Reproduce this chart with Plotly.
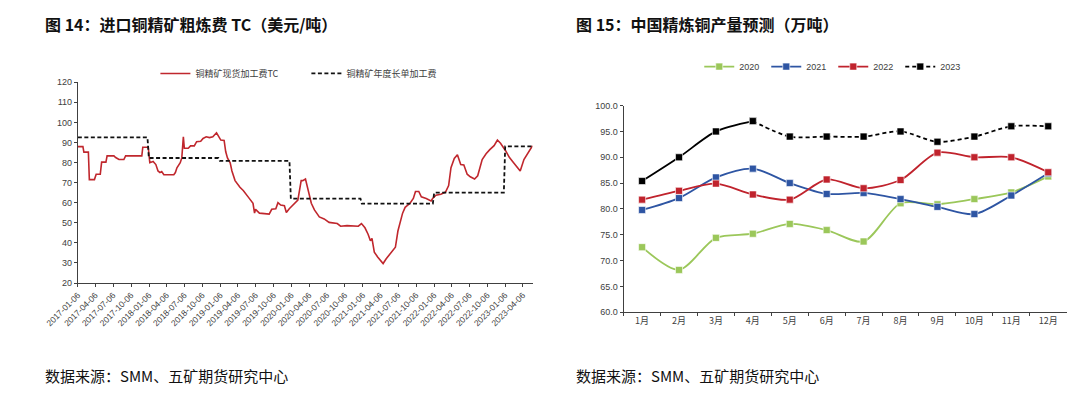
import pandas as pd
import plotly.graph_objects as go

# ---------------- Data: 图14 ----------------
tc_dates = [
    "2017-01-06", "2017-02-01", "2017-02-06", "2017-03-01", "2017-03-06", "2017-04-01",
    "2017-04-10", "2017-05-01", "2017-05-08", "2017-05-30", "2017-06-05", "2017-07-10",
    "2017-07-19", "2017-08-05", "2017-08-30", "2017-09-08", "2017-11-30", "2017-12-05",
    "2018-01-02", "2018-01-10", "2018-01-27", "2018-02-10", "2018-02-21", "2018-03-03",
    "2018-03-12", "2018-03-23", "2018-05-13", "2018-05-21", "2018-05-29", "2018-06-15",
    "2018-06-23", "2018-07-01", "2018-07-06", "2018-07-26", "2018-08-07", "2018-08-26",
    "2018-09-07", "2018-09-28", "2018-10-10", "2018-10-26", "2018-11-12", "2018-11-29",
    "2018-12-18", "2018-12-28", "2019-01-09", "2019-01-26", "2019-02-03", "2019-02-12",
    "2019-02-26", "2019-03-07", "2019-03-23", "2019-04-17", "2019-05-04", "2019-05-29",
    "2019-06-23", "2019-07-01", "2019-07-06", "2019-07-26", "2019-09-14", "2019-09-27",
    "2019-10-18", "2019-10-29", "2019-11-12", "2019-12-01", "2019-12-11", "2019-12-26",
    "2020-01-17", "2020-02-08", "2020-02-25", "2020-03-04", "2020-03-18", "2020-03-31",
    "2020-04-17", "2020-05-03", "2020-05-28", "2020-06-22", "2020-07-17", "2020-08-28",
    "2020-09-14", "2020-10-17", "2020-11-20", "2020-12-14", "2020-12-30", "2021-01-17",
    "2021-02-02", "2021-02-14", "2021-02-22", "2021-03-06", "2021-03-23", "2021-04-08",
    "2021-04-20", "2021-05-06", "2021-05-28", "2021-06-22", "2021-07-05", "2021-07-17",
    "2021-07-29", "2021-08-11", "2021-09-05", "2021-09-22", "2021-10-03", "2021-10-20",
    "2021-11-02", "2021-11-27", "2021-12-22", "2021-12-30", "2022-01-16", "2022-02-10",
    "2022-03-06", "2022-03-22", "2022-04-03", "2022-04-20", "2022-05-06", "2022-05-23",
    "2022-06-08", "2022-06-25", "2022-07-11", "2022-08-02", "2022-08-18", "2022-09-10",
    "2022-09-30", "2022-10-19", "2022-11-10", "2022-11-27", "2022-12-13", "2023-01-08",
    "2023-01-27", "2023-02-18", "2023-03-13", "2023-03-24", "2023-04-12", "2023-05-02",
    "2023-05-26",
]
tc_values = [
    87.9, 87.9, 85.2, 85.2, 71.5, 71.5,
    74.2, 74.2, 80.2, 80.2, 83.3, 83.3,
    82.5, 81.5, 81.5, 83.3, 83.3, 87.6,
    87.6, 79.9, 80.5, 79.0, 75.8, 75.0,
    75.5, 73.9, 73.9, 75.0, 77.4, 79.9,
    82.3, 92.8, 87.1, 87.1, 88.3, 88.3,
    90.4, 90.6, 92.0, 92.8, 92.4, 92.8,
    94.8, 92.8, 91.2, 91.0, 85.5, 82.3,
    79.9, 75.8, 71.0, 67.7, 66.1, 62.9,
    59.7, 54.8, 56.7, 54.8, 54.3, 56.7,
    57.0, 60.0, 58.8, 58.5, 55.1, 57.0,
    59.3, 61.3, 71.0, 71.0, 71.8, 66.1,
    59.7, 56.4, 52.9, 51.9, 50.2, 49.6,
    48.3, 48.6, 48.6, 48.3, 49.6, 47.5,
    44.3, 41.0, 42.2, 35.4, 33.0, 31.3,
    29.7, 32.1, 34.6, 37.8, 45.9, 50.0,
    54.8, 57.7, 59.7, 62.1, 65.6, 65.6,
    62.9, 62.1, 60.9, 62.1, 63.7, 64.2,
    65.3, 68.5, 77.4, 82.0, 83.9, 79.0,
    78.8, 74.2, 72.9, 71.8, 73.4, 81.5,
    84.4, 86.4, 88.4, 91.2, 89.6, 85.9,
    82.6, 79.9, 77.4, 75.8, 81.5, 84.4,
    88.4,
]
bench_years = [2017, 2018, 2019, 2020, 2021, 2022, 2023]
bench_values = [92.5, 82.25, 80.8, 62.0, 59.5, 65.0, 88.0]

left_tick_dates = [
    "2017-01-06", "2017-04-06", "2017-07-06", "2017-10-06",
    "2018-01-06", "2018-04-06", "2018-07-06", "2018-10-06",
    "2019-01-06", "2019-04-06", "2019-07-06", "2019-10-06",
    "2020-01-06", "2020-04-06", "2020-07-06", "2020-10-06",
    "2021-01-06", "2021-04-06", "2021-07-06", "2021-10-06",
    "2022-01-06", "2022-04-06", "2022-07-06", "2022-10-06",
    "2023-01-06", "2023-04-06",
]

# ---------------- Data: 图15 ----------------
months = ["1月", "2月", "3月", "4月", "5月", "6月", "7月", "8月", "9月", "10月", "11月", "12月"]
y2020 = [72.6, 68.2, 74.4, 75.2, 77.1, 75.9, 73.7, 81.1, 80.9, 81.9, 83.2, 86.3]
y2021 = [79.8, 82.1, 86.1, 87.8, 85.0, 82.9, 83.1, 81.9, 80.4, 79.0, 82.6, 86.9]
y2022 = [81.8, 83.5, 84.9, 82.8, 81.8, 85.7, 84.0, 85.6, 90.9, 90.0, 90.0, 87.1]
y2023 = [85.4, 90.0, 95.0, 97.0, 94.0, 94.0, 94.0, 95.0, 93.0, 94.0, 96.0, 96.0]
actual_2023_months = 4  # first months drawn solid (actual), the rest dashed (forecast)

# ---------------- Figure ----------------
W, H = 1080, 397
OFF = 8  # page body margin in the browser
RED = "#C0272D"
fig = go.Figure()

wk = pd.date_range(tc_dates[0], tc_dates[-1], freq="7D")
bench_map = dict(zip(bench_years, bench_values))
bench_series = [bench_map[d.year] for d in wk]

fig.add_trace(go.Scatter(
    x=pd.to_datetime(tc_dates), y=tc_values, mode="lines", name="铜精矿现货加工费TC",
    line=dict(color=RED, width=1.6), xaxis="x", yaxis="y", legend="legend",
))
fig.add_trace(go.Scatter(
    x=wk, y=bench_series, mode="lines", name="铜精矿年度长单加工费",
    line=dict(color="#111111", width=1.8, dash="4px,2.5px"), xaxis="x", yaxis="y", legend="legend",
))

MK = dict(symbol="square", size=7, line=dict(color="rgba(255,255,255,0.6)", width=1))
series = [("2020", y2020, "#9BC75A"), ("2021", y2021, "#2E55A3"), ("2022", y2022, "#C0232D")]
for name, vals, col in series:
    fig.add_trace(go.Scatter(
        x=months, y=vals, mode="lines+markers", name=name,
        line=dict(color=col, width=1.8, shape="spline", smoothing=0.8),
        marker=dict(color=col, **MK),
        xaxis="x2", yaxis="y2", legend="legend2",
    ))
n = actual_2023_months
fig.add_trace(go.Scatter(
    x=months[:n], y=y2023[:n], mode="lines+markers", name="2023",
    line=dict(color="#000000", width=1.8, shape="spline", smoothing=0.8),
    marker=dict(color="#000000", **MK),
    showlegend=False, xaxis="x2", yaxis="y2", legend="legend2",
))
fig.add_trace(go.Scatter(
    x=months[n - 1:], y=y2023[n - 1:], mode="lines+markers", name="2023",
    line=dict(color="#000000", width=1.8, dash="4px,3px", shape="spline", smoothing=0.8),
    marker=dict(color="#000000", **MK),
    xaxis="x2", yaxis="y2", legend="legend2",
))


def px_x(p):
    return (p - OFF) / W


def px_y(p):
    return 1 - (p - OFF) / H


TICKFONT = dict(family="Liberation Sans, Arial, sans-serif", size=9, color="#404040")
AX = "#404040"

fig.update_layout(
    width=W, height=H, margin=dict(l=0, r=0, t=0, b=0),
    paper_bgcolor="white", plot_bgcolor="white",
    font=dict(family="Noto Sans CJK SC, sans-serif", color="#333333"),
    xaxis=dict(
        domain=[px_x(46), px_x(515)], type="date",
        range=[tc_dates[0], tc_dates[-1]],
        tickmode="array", tickvals=left_tick_dates, ticktext=left_tick_dates,
        tickangle=-45, tickfont=dict(family="Liberation Sans, Arial, sans-serif", size=8.5, color="#404040"),
        showline=True, linecolor=AX, linewidth=1, ticks="outside", ticklen=3, tickcolor=AX,
        showgrid=False, zeroline=False,
    ),
    yaxis=dict(
        domain=[px_y(285), px_y(79)], range=[20, 120], dtick=10, tick0=20,
        tickfont=TICKFONT, showline=True, linecolor=AX, linewidth=1,
        ticks="outside", ticklen=3, tickcolor=AX, showgrid=False, zeroline=False,
    ),
    xaxis2=dict(
        domain=[px_x(609), px_x(1066)], type="category", range=[-0.5, 11.5],
        tickfont=dict(family="Noto Sans CJK SC, sans-serif", size=9, color="#404040"),
        showline=True, linecolor=AX, linewidth=1, ticks="outside", ticklen=3, tickcolor=AX,
        tickson="boundaries", showgrid=False, zeroline=False, anchor="y2",
    ),
    yaxis2=dict(
        domain=[px_y(315), px_y(103)], range=[60, 100], dtick=5, tick0=60,
        tickformat=".1f", tickfont=TICKFONT, showline=True, linecolor=AX, linewidth=1,
        ticks="outside", ticklen=3, tickcolor=AX, showgrid=False, zeroline=False, anchor="x2",
    ),
    legend=dict(
        orientation="h", x=px_x(126), y=px_y(70), xanchor="left", yanchor="middle",
        font=dict(family="Noto Sans CJK SC, sans-serif", size=9, color="#404040"),
        bgcolor="rgba(0,0,0,0)", itemwidth=30, entrywidth=106,
    ),
    legend2=dict(
        orientation="h", x=px_x(687), y=px_y(63), xanchor="left", yanchor="middle",
        font=dict(family="Liberation Sans, Arial, sans-serif", size=9, color="#404040"),
        bgcolor="rgba(0,0,0,0)", itemwidth=30, entrywidth=22,
    ),
    showlegend=True,
)

TITLE_FONT = dict(family="Noto Sans CJK SC, sans-serif", size=16, color="#111111")
FOOT_FONT = dict(family="Noto Sans CJK SC, sans-serif", size=15, color="#111111")
annos = [
    ("<b>图 14：进口铜精矿粗炼费 TC（美元/吨）</b>", 10, 19, TITLE_FONT),
    ("<b>图 15：中国精炼铜产量预测（万吨）</b>", 558, 19, TITLE_FONT),
    ("数据来源：SMM、五矿期货研究中心", 10, 380, FOOT_FONT),
    ("数据来源：SMM、五矿期货研究中心", 558, 380, FOOT_FONT),
]
for text, x, y, f in annos:
    fig.add_annotation(text=text, x=px_x(x), y=px_y(y), xref="paper", yref="paper",
                       xanchor="left", yanchor="middle", showarrow=False, font=f)

fig.write_html("out.html")
